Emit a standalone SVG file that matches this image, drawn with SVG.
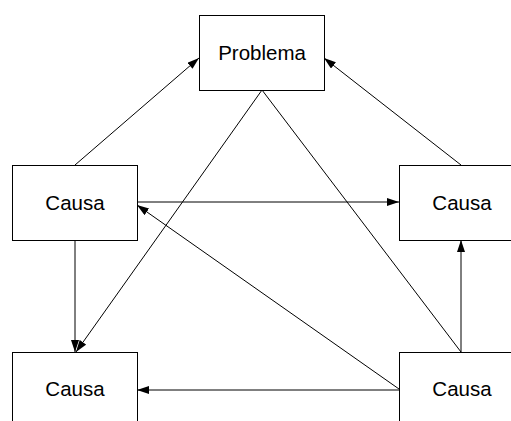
<svg xmlns="http://www.w3.org/2000/svg" width="511" height="421" viewBox="0 0 511 421">
<style>
.box{fill:#fff;stroke:#000;stroke-width:1}
.lbl{font-family:"Liberation Sans",Arial,sans-serif;font-size:20.5px;fill:#000;text-anchor:middle}
.edge{stroke:#000;stroke-width:1;fill:none}
.arr{marker-end:url(#ah)}
</style>
<defs>
<marker id="ah" markerUnits="userSpaceOnUse" markerWidth="13" markerHeight="9" refX="12" refY="4" orient="auto">
<path d="M0,0 L12,4 L0,8 z" fill="#000"/>
</marker>
</defs>
<rect width="511" height="421" fill="#fff"/>
<g id="connectors">
<line class="edge arr" x1="75" y1="165" x2="199" y2="58"/>
<line class="edge arr" x1="461" y1="165" x2="324" y2="58"/>
<line class="edge arr" x1="262" y1="90" x2="76" y2="352"/>
<line class="edge" x1="262" y1="90" x2="461" y2="352"/>
<line class="edge arr" x1="137" y1="202" x2="399" y2="202"/>
<line class="edge arr" x1="75" y1="240" x2="75" y2="352"/>
<line class="edge arr" x1="461" y1="352" x2="461" y2="240"/>
<line class="edge arr" x1="399" y1="390" x2="137" y2="390"/>
<line class="edge arr" x1="399" y1="389" x2="137" y2="205"/>
</g>
<g id="problema">
<rect class="box" x="199.5" y="15.5" width="125" height="75"/>
<text class="lbl" x="262" y="59.5">Problema</text>
</g>
<g id="causa-left">
<rect class="box" x="12.5" y="165.5" width="125" height="75"/>
<text class="lbl" x="75" y="209.5">Causa</text>
</g>
<g id="causa-right">
<rect class="box" x="399.5" y="165.5" width="125" height="75"/>
<text class="lbl" x="462" y="209.5">Causa</text>
</g>
<g id="causa-bottom-left">
<rect class="box" x="12.5" y="352.5" width="125" height="75"/>
<text class="lbl" x="75" y="396">Causa</text>
</g>
<g id="causa-bottom-right">
<rect class="box" x="399.5" y="352.5" width="125" height="75"/>
<text class="lbl" x="462" y="396">Causa</text>
</g>
</svg>
